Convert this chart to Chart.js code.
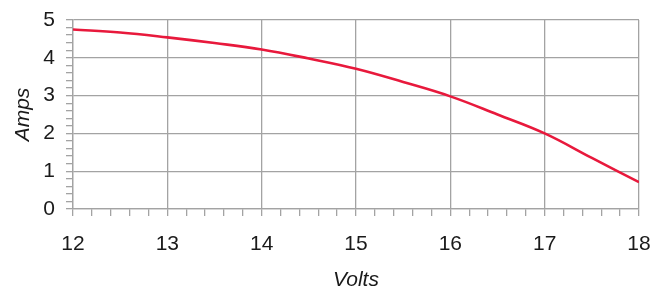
<!DOCTYPE html>
<html>
<head>
<meta charset="utf-8">
<script src="https://cdn.jsdelivr.net/npm/chart.js@4"></script>
<style>
  html, body { margin: 0; padding: 0; background: #fff; }
  #wrap { width: 655px; height: 289px; }
</style>
</head>
<body>
<div id="wrap"><canvas id="ivChart" width="655" height="289"></canvas></div>
<script>
// values
const volts = [12, 12.5, 13, 13.5, 14, 14.5, 15, 15.5, 16, 16.5, 17, 17.5, 18];
const amps = [4.75, 4.67, 4.54, 4.39, 4.22, 3.98, 3.71, 3.36, 2.98, 2.50, 2.0, 1.35, 0.71];
const xTicks = [12, 13, 14, 15, 16, 17, 18];
const yTicks = [0, 1, 2, 3, 4, 5];

const gridGray = '#a3a3a3';
const font = { family: 'Liberation Sans, Arial, sans-serif', size: 21 };

function isMajor(v) {
    return Math.abs(v - Math.round(v)) < 1e-6;
}

const ctx = document.getElementById('ivChart').getContext('2d');
new Chart(ctx, {
    type: 'line',
    data: {
        datasets: [{
            data: volts.map((v, i) => ({ x: v, y: amps[i] })),
            borderColor: '#e8193c',
            borderWidth: 2.6,
            pointRadius: 0,
            tension: 0.4,
            fill: false
        }]
    },
    options: {
        responsive: false,
        animation: false,
        layout: { padding: { top: 20, right: 16, left: 0, bottom: 0 } },
        plugins: { legend: { display: false }, tooltip: { enabled: false } },
        scales: {
            x: {
                type: 'linear',
                min: xTicks[0],
                max: xTicks[xTicks.length - 1],
                afterFit: s => {
                    s.height = 80;
                    // don't let the label padding shrink the plot width
                    s.paddingLeft = 0;
                    s.paddingRight = 0;
                },
                border: { color: gridGray, width: 1.3 },
                grid: {
                    color: c => isMajor(c.tick.value) ? gridGray : 'rgba(0,0,0,0)',
                    tickColor: gridGray,
                    lineWidth: 1.3,
                    tickLength: 7
                },
                ticks: {
                    stepSize: 0.2,
                    maxTicksLimit: 100,
                    autoSkip: false,
                    maxRotation: 0,
                    padding: 16,
                    color: '#1a1a1a',
                    font: font,
                    callback: v => isMajor(v) ? String(Math.round(v)) : ''
                },
                title: {
                    display: true,
                    text: 'Volts',
                    color: '#1a1a1a',
                    font: { family: font.family, size: 21, style: 'italic' },
                    padding: { top: 0, bottom: -4 }
                }
            },
            y: {
                min: yTicks[0],
                max: yTicks[yTicks.length - 1],
                afterFit: s => {
                    s.width = 73;
                    s.paddingTop = 0;
                    s.paddingBottom = 0;
                },
                border: { color: gridGray, width: 1.3 },
                grid: {
                    color: c => isMajor(c.tick.value) ? gridGray : 'rgba(0,0,0,0)',
                    tickColor: gridGray,
                    lineWidth: 1.3,
                    tickLength: 7
                },
                ticks: {
                    stepSize: 0.2,
                    maxTicksLimit: 100,
                    autoSkip: false,
                    padding: 11,
                    color: '#1a1a1a',
                    font: font,
                    callback: v => isMajor(v) ? String(Math.round(v)) : ''
                },
                title: {
                    display: true,
                    text: 'Amps',
                    color: '#1a1a1a',
                    font: { family: font.family, size: 21, style: 'italic' },
                    padding: { top: 11, bottom: 0 }
                }
            }
        }
    }
});
</script>
</body>
</html>
